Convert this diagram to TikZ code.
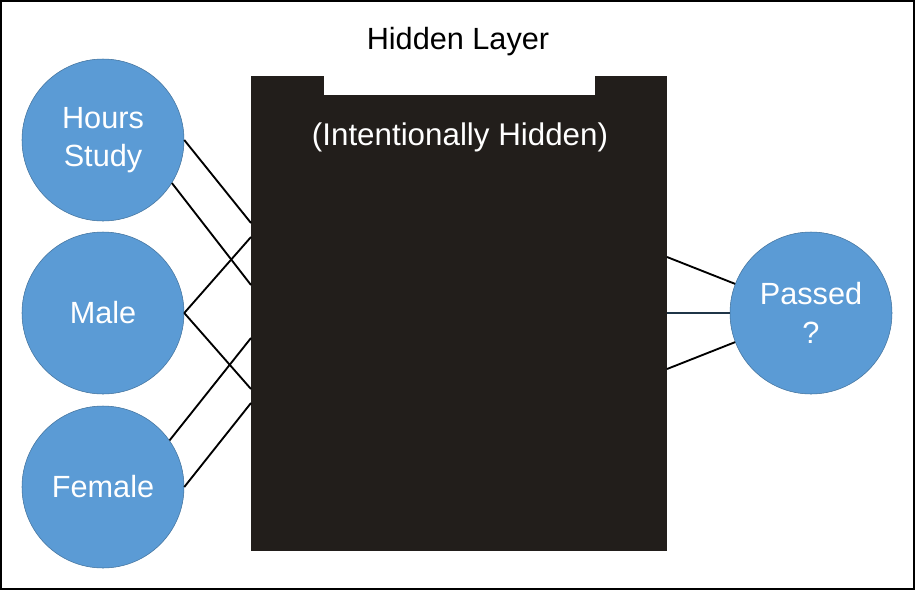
\documentclass[tikz,border=0pt]{standalone}
\usepackage{fontspec}
\setmainfont{Liberation Sans}

\definecolor{unitblue}{HTML}{5B9BD5}
\definecolor{unitedge}{HTML}{41719C}
\definecolor{boxblack}{HTML}{221E1B}
\definecolor{linkblue}{HTML}{1F3547}

\begin{document}
\begin{tikzpicture}[x=0.75pt,y=-0.75pt,
            every node/.style={font=\fontsize{23}{29}\selectfont,inner sep=0pt},
            unit/.style={draw=unitedge,fill=unitblue,circle,minimum size=121.5pt,text=white,align=center},
            link/.style={line width=1.4pt}]
                \useasboundingbox (0,0) rectangle (915,590);
                \draw[line width=1.2pt] (1,1) rectangle (914,589);
                \node[fill=boxblack,minimum width=312pt,minimum height=356.25pt](hidden) at (459,313.5) {};
                \fill[white] (324,74) rectangle (595,95);
                \node[anchor=base](title) at (458,49) {Hidden Layer};
                \node[anchor=base,text=white,font=\fontsize{23.5}{29}\selectfont](note) at (460,145) {(Intentionally Hidden)};
                \node[unit](hours) at (103,140) {Hours\\Study};
                \node[unit](male) at (103,313) {Male};
                \node[unit](female) at (103,487) {Female};
                \node[unit](passed) at (811,313) {Passed\\?};
                \coordinate (h1) at (251,223);
                \coordinate (h2) at (251,285);
                \coordinate (h3) at (251,237);
                \coordinate (h4) at (251,389);
                \coordinate (h5) at (251,338);
                \coordinate (h6) at (251,403);
                \coordinate (o1) at (667,257);
                \coordinate (o2) at (667,313);
                \coordinate (o3) at (667,369);
                \draw[link] (hours.0) -- (h1);
                \draw[link] (hours.-32) -- (h2);
                \draw[link] (male.0) -- (h3);
                \draw[link] (male.0) -- (h4);
                \draw[link] (female.35) -- (h5);
                \draw[link] (female.0) -- (h6);
                \draw[link] (o1) -- (passed.159);
                \draw[link,linkblue] (o2) -- (passed.180);
                \draw[link] (o3) -- (passed.201);
        \end{tikzpicture}
\end{document}
